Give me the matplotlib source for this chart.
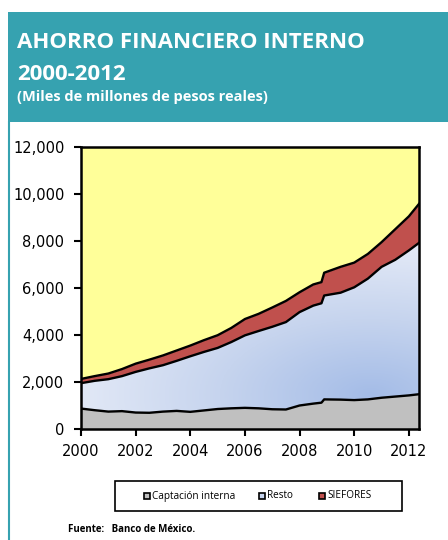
import numpy as np
import matplotlib
matplotlib.use("Agg")
import matplotlib.pyplot as plt
from matplotlib.patches import Rectangle
from matplotlib.colors import LinearSegmentedColormap

# datos (miles de millones de pesos reales)
fechas = [2000.0, 2000.5, 2001.0, 2001.5, 2002.0, 2002.5, 2003.0, 2003.5,
          2004.0, 2004.5, 2005.0, 2005.5, 2006.0, 2006.5, 2007.0, 2007.5,
          2008.0, 2008.5, 2008.8, 2008.9, 2009.5, 2010.0, 2010.5, 2011.0,
          2011.5, 2012.0, 2012.37]
captacion = [870, 800, 740, 760, 700, 690, 740, 770,
             730, 790, 850, 880, 900, 880, 840, 830,
             1000, 1080, 1120, 1260, 1250, 1230, 1260, 1330,
             1380, 1430, 1480]
resto = [1080, 1250, 1380, 1490, 1730, 1890, 1975, 2130,
         2365, 2490, 2600, 2820, 3085, 3290, 3510, 3720,
         3975, 4170, 4230, 4420, 4550, 4800, 5140, 5570,
         5820, 6170, 6440]
siefores = [180, 200, 240, 300, 350, 370, 415, 440,
            455, 500, 540, 600, 695, 730, 820, 900,
            845, 900, 900, 970, 1100, 1050, 1050, 1050,
            1300, 1450, 1660]

leyenda = ["Captación interna", "Resto", "SIEFORES"]
anios = [2000, 2002, 2004, 2006, 2008, 2010, 2012]
yticks = [0, 2000, 4000, 6000, 8000, 10000, 12000]

x = np.array(fechas)
c1 = np.array(captacion)
c2 = c1 + np.array(resto)
c3 = c2 + np.array(siefores)

teal = "#36A2B0"
amarillo = "#FFFF99"
gris = "#C0C0C0"
rojo = "#C0504D"

fig = plt.figure(figsize=(4.48, 5.40), dpi=100)

# encabezado
fig.patches.append(Rectangle((8/448, 1-122/540), 1, 110/540, transform=fig.transFigure,
                             facecolor=teal, edgecolor="none", zorder=0))
fig.add_artist(plt.Line2D([9/448, 9/448], [0, 1-122/540], transform=fig.transFigure,
                          color=teal, lw=1.5))
fig.text(17/448, 1-48/540, "AHORRO FINANCIERO INTERNO", color="white",
         fontsize=16, fontweight="bold", family="Open Sans", va="baseline")
fig.text(17/448, 1-80/540, "2000-2012", color="white",
         fontsize=16, fontweight="bold", family="Open Sans", va="baseline")
fig.text(17/448, 1-101/540, "(Miles de millones de pesos reales)", color="white",
         fontsize=10.5, fontweight="bold", family="Open Sans", va="baseline")

ax = fig.add_axes([81/448, 1-429/540, 338/448, 282/540])
ax.set_facecolor(amarillo)

ax.fill_between(x, 0, c1, color=gris, lw=0, zorder=2)
poly = ax.fill_between(x, c1, c2, color="none", lw=0, zorder=2)
ax.fill_between(x, c2, c3, color=rojo, lw=0, zorder=2)

# degradado azul de la serie "Resto"
gx, gy = np.meshgrid(np.linspace(0, 1, 300), np.linspace(0, 1, 300))
d = np.sqrt(((gx - 0.86) / 1.0) ** 2 + ((gy - 0.12) / 0.6) ** 2)
cmap = LinearSegmentedColormap.from_list("azul", ["#A4BCE7", "#C6D4EE", "#E4EAF7"])
img = ax.imshow(d, cmap=cmap, extent=[2000, 2012.37, 0, 12000], origin="lower",
                aspect="auto", vmin=0, vmax=0.9, zorder=2)
img.set_clip_path(poly.get_paths()[0], transform=ax.transData)

for serie in (c1, c2, c3):
    ax.plot(x, serie, color="black", lw=1.7, zorder=3)

ax.set_xlim(2000, 2012.37)
ax.set_ylim(0, 12000)
ax.set_xticks(anios)
ax.set_yticks(yticks)
ax.set_yticklabels([f"{v:,}" for v in yticks])
ax.tick_params(labelsize=10.5, length=5, width=1.5, direction="out")
ax.tick_params(axis="y", pad=7)
ax.tick_params(axis="x", pad=6)
for s in ax.spines.values():
    s.set_linewidth(1.8)

# leyenda
fig.patches.append(Rectangle((115/448, 1-511/540), 287/448, 30/540, transform=fig.transFigure,
                             facecolor="white", edgecolor="black", lw=1.2))
pos = [147, 262, 322]
for p, lab, col in zip(pos, leyenda, [gris, "#C6D4EE", rojo]):
    fig.patches.append(Rectangle(((p-3)/448, 1-499/540), 6/448, 6/540, transform=fig.transFigure,
                                 facecolor=col, edgecolor="black", lw=1.2))
    fig.text((p+5)/448, 1-496/540, lab, fontsize=7.2, family="Open Sans", va="center")

fig.text(68/448, 1-532/540, "Fuente:   Banco de México.", fontsize=7,
         fontweight="bold", family="Open Sans", va="baseline")

fig.savefig("out.png", dpi=100)
